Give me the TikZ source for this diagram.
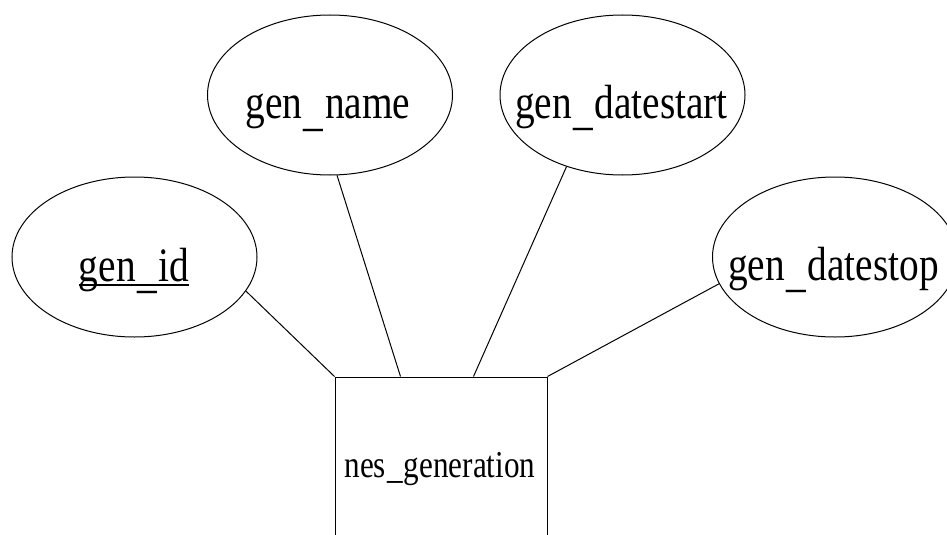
\documentclass[tikz,border=0pt]{standalone}
\usepackage{fontspec}
\setmainfont{Liberation Serif}[FakeStretch=0.82]
\usetikzlibrary{shapes.geometric}
\newcommand\lowus[1]{\kern0.03em\raisebox{-#1em}{\_}\kern0.03em}
\begin{document}
\begin{tikzpicture}[x=1pt,y=-1pt,
  attr/.style={ellipse,draw,line width=1pt,minimum width=245pt,minimum height=160pt,inner sep=0pt},
  entbox/.style={rectangle,draw,line width=1pt,minimum width=212pt,minimum height=186pt,inner sep=0pt},
  lbl/.style={anchor=base,inner sep=0pt,font=\fontsize{48}{50}\selectfont},
  elbl/.style={anchor=base,inner sep=0pt,font=\fontsize{38}{40}\selectfont},
  link/.style={line width=1pt}]
\useasboundingbox (0,0) rectangle (947,535);
\clip (0,0) rectangle (947,535);
% attributes
\node[attr] (gid) at (134.5,257) {};
\node[attr] (gname) at (330,95) {};
\node[attr] (gstart) at (622.5,95) {};
\node[attr] (gstop) at (835,257) {};
% entity
\node[entbox] (nes) at (441,470) {};
% labels
\node[lbl] (gidt) at (134,281) {gen\lowus{0.13}id};
\draw[line width=1.2pt] ([yshift=-4pt]gidt.base west) -- ([yshift=-4pt]gidt.base east);
\node[lbl] (gnamet) at (328,118) {gen\lowus{0.15}name};
\node[lbl] (gstartt) at (621.5,118) {gen\lowus{0.13}datestart};
\node[lbl] (gstopt) at (833.5,280) {gen\lowus{0.13}datestop};
\node[elbl] (nest) at (440,477) {nes\lowus{0.05}generation};
% links
\draw[link] (gid.-17.6) -- (nes.north west);
\draw[link] (gname.-85) -- ([xshift=66pt]nes.north west);
\draw[link] (gstart.-128) -- ([xshift=139pt]nes.north west);
\draw[link] (gstop.-167.8) -- (nes.north east);
\end{tikzpicture}
\end{document}
